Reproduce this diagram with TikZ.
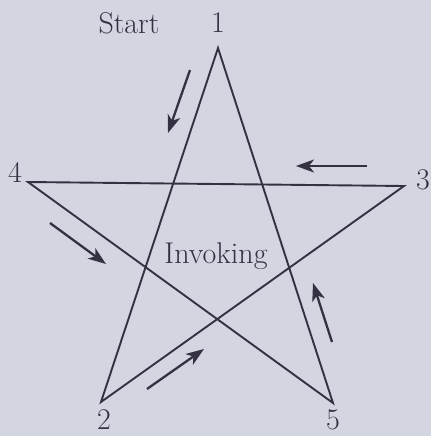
\documentclass[tikz,border=0pt]{standalone}
\usetikzlibrary{arrows.meta}
\definecolor{bg}{RGB}{211,213,224}
\definecolor{ink}{RGB}{52,50,66}
\begin{document}
\begin{tikzpicture}[x=1pt,y=-1pt,
  edge/.style={draw=ink,line width=1.9pt,line join=miter},
  dirarrow/.style={draw=ink,line width=2.3pt,-{Stealth[length=18pt,width=13pt,inset=5pt]}},
  lbl/.style={text=ink,inner sep=0pt,font=\fontsize{30}{35}\selectfont}]
\fill[bg] (0,0) rectangle (431,436);
\useasboundingbox (0,0) rectangle (431,436);
\coordinate (v1) at (218,48);
\coordinate (v2) at (101,402);
\coordinate (v3) at (404,186);
\coordinate (v4) at (28,182);
\coordinate (v5) at (333,403);
\draw[edge] (v1) -- (v2) -- (v3) -- (v4) -- (v5) -- cycle;
\node[lbl] (n1) at (218,23) {1};
\node[lbl] (n2) at (104,420) {2};
\node[lbl] (n3) at (423,180) {3};
\node[lbl] (n4) at (15,172) {4};
\node[lbl] (n5) at (333,420) {5};
\node[lbl] (start) at (129,23) {Start};
\node[lbl] (inv) at (216,256) {Invoking};
\coordinate (a1s) at (190,70);  \coordinate (a1e) at (168,133);
\coordinate (a2s) at (50,223);  \coordinate (a2e) at (106,264);
\coordinate (a3s) at (367,166); \coordinate (a3e) at (296,166);
\coordinate (a4s) at (332,342); \coordinate (a4e) at (313,283);
\coordinate (a5s) at (147,389); \coordinate (a5e) at (204,349);
\draw[dirarrow] (a1s) -- (a1e);
\draw[dirarrow] (a2s) -- (a2e);
\draw[dirarrow] (a3s) -- (a3e);
\draw[dirarrow] (a4s) -- (a4e);
\draw[dirarrow] (a5s) -- (a5e);
\end{tikzpicture}
\end{document}
